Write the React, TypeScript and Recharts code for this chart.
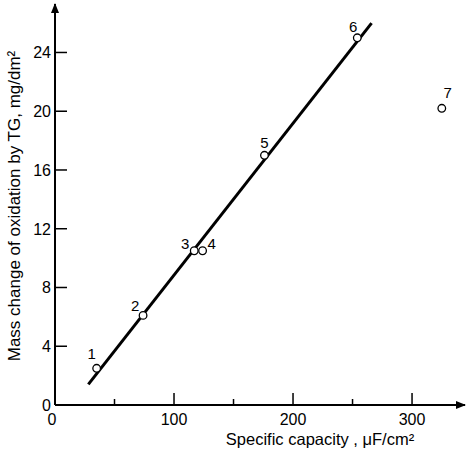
import { ScatterChart, Scatter, XAxis, YAxis } from "recharts";

// data points
const pointIds = ["1", "2", "3", "4", "5", "6", "7"];
const capacity = [35, 74, 117, 124, 176, 254, 325];
const massChange = [2.5, 6.1, 10.5, 10.5, 17.0, 25.0, 20.2];

// fitted straight line (end points)
const fitCapacity = [28, 266];
const fitMass = [1.4, 26.0];

const xTicks = [0, 50, 100, 150, 200, 250, 300];
const xLabeled = [0, 100, 200, 300];
const yTicks = [0, 4, 8, 12, 16, 20, 24];

const points = pointIds.map((id, i) => ({ id, x: capacity[i], y: massChange[i] }));
const fit = fitCapacity.map((x, i) => ({ x, y: fitMass[i] }));

// where each number sits relative to its circle
const labelOffset: Record<string, [number, number]> = {
  "1": [-5, -14],
  "2": [-8, -9],
  "3": [-9, -7],
  "4": [9, -7],
  "5": [0, -12],
  "6": [-4, -11],
  "7": [6, -15],
};

const font = "'Liberation Sans', Arial, sans-serif";

const XTick = (props: any) => {
  const { x, y, payload } = props;
  const major = xLabeled.includes(payload.value);
  return (
    <g>
      <line x1={x} y1={y} x2={x} y2={y - (major ? 12 : 6)} stroke="#000" strokeWidth={1.5} />
      {major && (
        <text x={payload.value === 0 ? x - 3 : x} y={y + 20} textAnchor="middle" fontSize={16} fontFamily={font} fill="#000">
          {payload.value}
        </text>
      )}
    </g>
  );
};

const YTick = (props: any) => {
  const { x, y, payload } = props;
  return (
    <g>
      {payload.value !== 0 && <line x1={x} y1={y} x2={x + 12} y2={y} stroke="#000" strokeWidth={1.5} />}
      <text x={x - 4} y={y + 6} textAnchor="end" fontSize={16} fontFamily={font} fill="#000">
        {payload.value}
      </text>
    </g>
  );
};

const PointShape = (props: any) => {
  const { cx, cy, payload } = props;
  const [dx, dy] = labelOffset[payload.id] || [0, -12];
  return (
    <g>
      <circle cx={cx} cy={cy} r={3.8} fill="#fff" stroke="#000" strokeWidth={1.3} />
      <text x={cx + dx} y={cy + dy + 5} textAnchor="middle" fontSize={15} fontFamily={font} fill="#000">
        {payload.id}
      </text>
    </g>
  );
};

export default function App() {
  return (
    <div style={{ position: "absolute", left: 0, top: 0, background: "#fff" }}>
      <svg width={0} height={0} style={{ position: "absolute" }}>
        <defs>
          <marker id="arrowHead" viewBox="0 0 10 8" refX={9} refY={4} markerWidth={11} markerHeight={8}
            markerUnits="userSpaceOnUse" orient="auto-start-reverse">
            <path d="M0,0 L10,4 L0,8 z" fill="#000" />
          </marker>
        </defs>
      </svg>
      <ScatterChart width={467} height={454} margin={{ top: 4, right: 2, bottom: 0, left: 0 }}>
        <XAxis
          type="number"
          dataKey="x"
          domain={[0, 344.5]}
          ticks={xTicks}
          interval={0}
          tickSize={0}
          tickMargin={0}
          tickLine={false}
          tick={<XTick />}
          height={49}
          axisLine={{ stroke: "#000", strokeWidth: 2, markerEnd: "url(#arrowHead)" }}
          allowDataOverflow
          label={{
            content: (p: any) => (
              <text x={p.viewBox.x + 265} y={p.viewBox.y + 40} textAnchor="middle" fontSize={16.5} fontFamily={font} fill="#000">
                Specific capacity , μF/cm²
              </text>
            ),
          }}
        />
        <YAxis
          type="number"
          dataKey="y"
          domain={[0, 27.3]}
          ticks={yTicks}
          interval={0}
          tickSize={0}
          tickMargin={0}
          tickLine={false}
          tick={<YTick />}
          width={55}
          axisLine={{ stroke: "#000", strokeWidth: 2, markerStart: "url(#arrowHead)" }}
          allowDataOverflow
          label={{
            content: () => (
              <text x={20} y={206} transform="rotate(-90 20 206)" textAnchor="middle" fontSize={17} fontFamily={font} fill="#000">
                Mass change of oxidation by TG, mg/dm²
              </text>
            ),
          }}
        />
        <Scatter
          data={fit}
          line={{ stroke: "#000", strokeWidth: 3 }}
          shape={() => <g />}
          isAnimationActive={false}
        />
        <Scatter data={points} shape={<PointShape />} isAnimationActive={false} />
      </ScatterChart>
    </div>
  );
}
